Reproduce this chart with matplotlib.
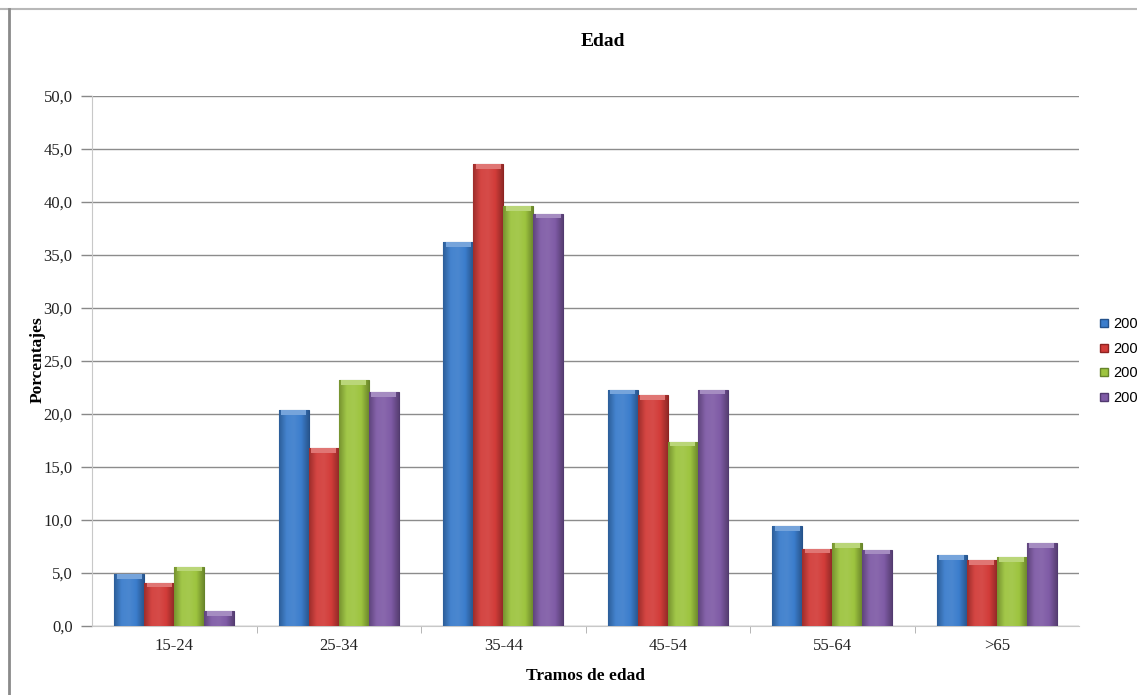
import matplotlib
matplotlib.use("Agg")
import matplotlib.pyplot as plt
import numpy as np
from matplotlib.lines import Line2D
from matplotlib.colors import LinearSegmentedColormap, to_rgb

categories = ["15-24", "25-34", "35-44", "45-54", "55-64", ">65"]
series_names = ["200", "200", "200", "200"]
s1 = [4.9, 20.4, 36.2, 22.3, 9.4, 6.7]
s2 = [4.1, 16.8, 43.6, 21.8, 7.3, 6.2]
s3 = [5.6, 23.2, 39.6, 17.4, 7.8, 6.5]
s4 = [1.4, 22.1, 38.9, 22.3, 7.2, 7.8]
yticks = [0, 5, 10, 15, 20, 25, 30, 35, 40, 45, 50]

colors = ["#3b7dcc", "#d23c39", "#9dc43f", "#7f5ba6"]
edges = ["#24528c", "#8e2321", "#66842a", "#523a70"]

serif = ["Liberation Serif", "DejaVu Serif"]

fig = plt.figure(figsize=(11.37, 6.95), dpi=100)
fig.patch.set_facecolor("white")
ax = fig.add_axes([92/1137, 69/695, (1079-92)/1137, (626-96)/695])

x = np.arange(len(categories))
w = 0.182
all_series = [s1, s2, s3, s4]


def shade(c, f):
    r = np.array(to_rgb(c))
    if f >= 0:
        return tuple(r + (1 - r) * f)
    return tuple(r * (1 + f))


grad = np.linspace(0, 1, 64).reshape(1, -1)
for i, s in enumerate(all_series):
    off = (i - 1.5) * w
    bars = ax.bar(x + off, s, width=w, color=colors[i], edgecolor=edges[i],
                  linewidth=0.8, zorder=3)
    cmap = LinearSegmentedColormap.from_list(
        "b%d" % i,
        [shade(colors[i], -0.25), shade(colors[i], 0.05), shade(colors[i], 0.08),
         shade(colors[i], 0.0), shade(colors[i], -0.3)])
    for b in bars:
        bx, by, bw, bh = b.get_x(), b.get_y(), b.get_width(), b.get_height()
        im = ax.imshow(grad, cmap=cmap, aspect="auto",
                       extent=(bx, bx + bw, by, by + bh), zorder=3.5,
                       interpolation="bicubic")
        im.set_clip_path(b)
        cap = min(0.45, bh * 0.5)
        ax.fill_between([bx + bw * 0.08, bx + bw * 0.92], by + bh - cap, by + bh,
                        color=shade(colors[i], 0.3), zorder=3.6, linewidth=0)

ax.set_xlim(-0.5, len(categories) - 0.5)
ax.set_ylim(0, 50)
ax.set_yticks(yticks)
ax.set_yticklabels([f"{v:.1f}".replace(".", ",") for v in yticks],
                   fontfamily=serif, fontsize=12, color="#222222")
ax.set_xticks(x)
ax.set_xticklabels(categories, fontfamily=serif, fontsize=12, color="#222222")
ax.tick_params(axis="x", length=0, pad=9)
ax.tick_params(axis="y", length=8, color="#888888", width=1, pad=6)
ax.set_xticks(np.arange(0.5, len(categories) - 0.5, 1), minor=True)
ax.tick_params(axis="x", which="minor", length=5, color="#aaaaaa")

ax.yaxis.grid(True, color="#8c8c8c", linewidth=1.0, zorder=0)
ax.set_axisbelow(True)
for side in ["top", "right"]:
    ax.spines[side].set_visible(False)
ax.spines["left"].set_color("#c8c8c8")
ax.spines["bottom"].set_color("#c8c8c8")

fig.text(603/1137, 1 - 42/695, "Edad", ha="center", va="center",
         fontfamily=serif, fontsize=14, fontweight="bold")
fig.text(585/1137, 1 - 676/695, "Tramos de edad", ha="center", va="center",
         fontfamily=serif, fontsize=12.5, fontweight="bold")
fig.text(38/1137, 1 - 360/695, "Porcentajes", ha="center", va="center",
         rotation=90, fontfamily=serif, fontsize=12.5, fontweight="bold")

# legend
handles = [Line2D([0], [0], marker="s", linestyle="none", markersize=6,
                  markerfacecolor=colors[i], markeredgecolor=edges[i])
           for i in range(4)]
leg = fig.legend(handles, series_names, loc="upper left",
                 bbox_to_anchor=(1094/1137, 1 - 313/695), frameon=False,
                 handlelength=0.8, handletextpad=0.25, labelspacing=0.72,
                 borderaxespad=0, borderpad=0.3,
                 prop={"family": ["Liberation Sans", "DejaVu Sans"], "size": 10.5})

# outer frame lines
fig.add_artist(Line2D([0, 1], [1 - 9/695, 1 - 9/695], color="#b8b8b8",
                      linewidth=1.5, transform=fig.transFigure))
fig.add_artist(Line2D([9/1137, 9/1137], [0, 1 - 9/695], color="#8a8a8a",
                      linewidth=2, transform=fig.transFigure))

fig.savefig("out.png", dpi=100, facecolor="white")
